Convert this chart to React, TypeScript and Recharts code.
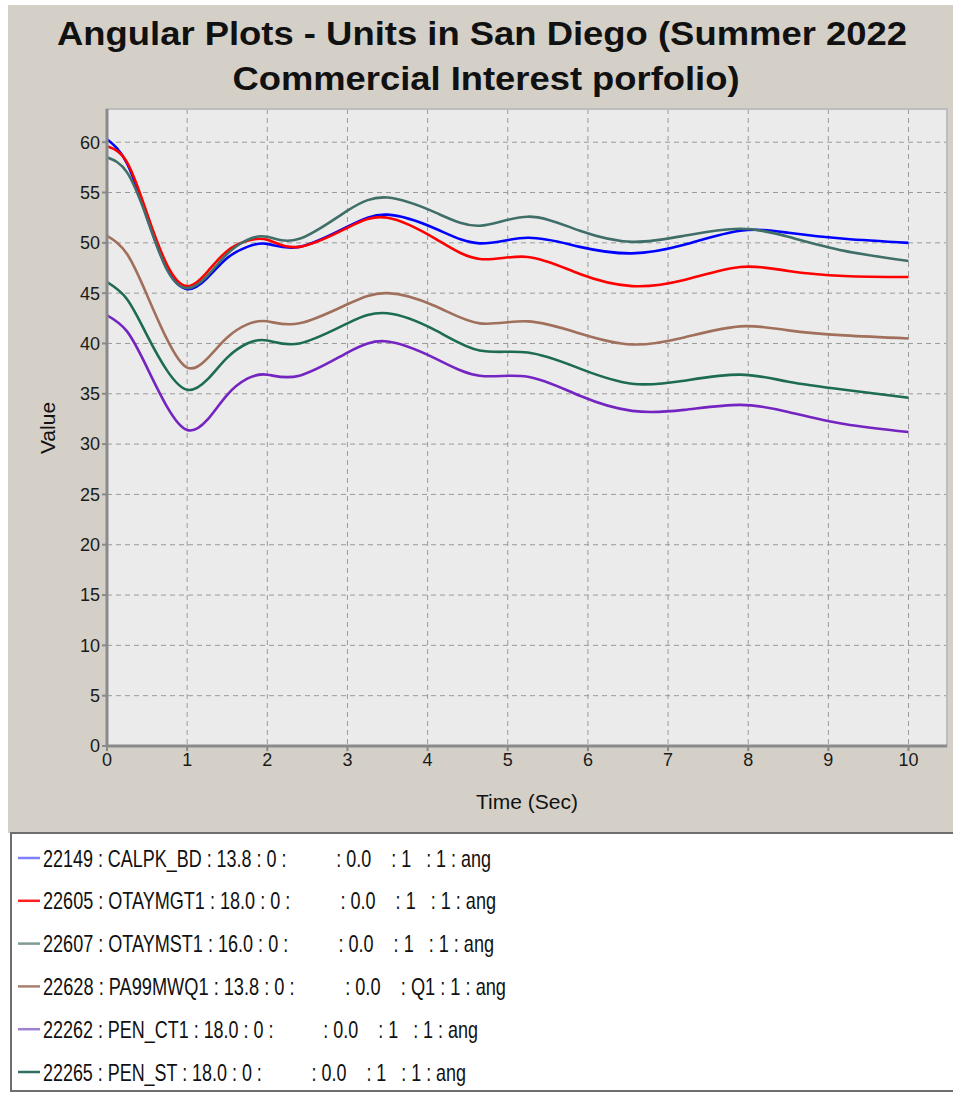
import React from 'react';
import { LineChart, Line, XAxis, YAxis, CartesianGrid, ReferenceArea } from 'recharts';

const times = [0, 0.25, 0.5, 0.75, 1.0, 1.25, 1.5, 1.75, 2.0, 2.4, 3.0, 3.5, 4.1, 4.65, 5.25, 5.9, 6.55, 7.2, 7.9, 8.5, 9.2, 10];
const calpk = [60.3, 57.9, 52.5, 47.4, 45.4, 46.5, 48.5, 49.6, 49.9, 49.6, 51.6, 52.8, 51.4, 49.95, 50.5, 49.6, 48.95, 49.8, 51.2, 51.0, 50.4, 50.0];
const otaymgt = [59.6, 58.0, 52.9, 47.8, 45.7, 47.1, 49.2, 50.2, 50.3, 49.6, 51.5, 52.5, 50.4, 48.4, 48.6, 46.9, 45.7, 46.3, 47.6, 47.2, 46.7, 46.6];
const otaymst = [58.5, 57.0, 52.4, 47.3, 45.5, 46.7, 48.9, 50.3, 50.6, 50.4, 53.2, 54.5, 53.0, 51.7, 52.6, 51.2, 50.1, 50.7, 51.4, 50.6, 49.2, 48.2];
const pa99 = [50.7, 48.9, 44.8, 40.4, 37.6, 38.5, 40.6, 41.9, 42.2, 42.0, 43.9, 45.0, 43.7, 42.0, 42.2, 41.0, 39.9, 40.6, 41.7, 41.3, 40.8, 40.5];
const penCt = [42.8, 41.2, 37.6, 33.7, 31.4, 32.4, 34.9, 36.5, 36.9, 36.8, 39.1, 40.2, 38.5, 36.8, 36.7, 34.8, 33.3, 33.4, 33.9, 33.2, 32.0, 31.2];
const penSt = [46.1, 44.4, 40.8, 37.3, 35.4, 36.4, 38.6, 40.0, 40.3, 40.0, 42.0, 43.0, 41.3, 39.3, 39.1, 37.5, 36.0, 36.3, 36.9, 36.2, 35.4, 34.6];

const xTicks = [0, 1, 2, 3, 4, 5, 6, 7, 8, 9, 10];
const yTicks = [0, 5, 10, 15, 20, 25, 30, 35, 40, 45, 50, 55, 60];

const titleLines = ['Angular Plots - Units in San Diego (Summer 2022', 'Commercial Interest porfolio)'];

const seriesKeys = ['calpk', 'otaymgt', 'otaymst', 'pa99', 'penCt', 'penSt'];
const seriesColors = ['#0000ff', '#ff0000', '#3f6f68', '#a0705c', '#7424c0', '#1c6b52'];
const legendColors = ['#7f7fff', '#ff2020', '#809a94', '#a88070', '#a080d0', '#2f7060'];
const legendLabels = [
  '22149 : CALPK_BD : 13.8 : 0 :          : 0.0    : 1   : 1 : ang',
  '22605 : OTAYMGT1 : 18.0 : 0 :          : 0.0    : 1   : 1 : ang',
  '22607 : OTAYMST1 : 16.0 : 0 :          : 0.0    : 1   : 1 : ang',
  '22628 : PA99MWQ1 : 13.8 : 0 :          : 0.0    : Q1 : 1 : ang',
  '22262 : PEN_CT1 : 18.0 : 0 :          : 0.0    : 1   : 1 : ang',
  '22265 : PEN_ST : 18.0 : 0 :          : 0.0    : 1   : 1 : ang',
];
const legendWidths = [448, 453, 451, 463, 435, 423];

const seriesData = [calpk, otaymgt, otaymst, pa99, penCt, penSt];
const data = times.map((t, i) => {
  const row: Record<string, number> = { t };
  seriesKeys.forEach((k, j) => { row[k] = seriesData[j][i]; });
  return row;
});

const FONT = '"Liberation Sans", Arial, sans-serif';

export default function App() {
  return (
    <div style={{ position: 'absolute', left: 0, top: 0, width: 953, height: 1094, background: '#ffffff', fontFamily: FONT }}>
      <div style={{ position: 'absolute', left: 8, top: 5, width: 945, height: 828, background: '#d4d0c8' }} />
      <div style={{ position: 'absolute', left: 0, top: 0 }}>
        <LineChart width={953} height={832} data={data} margin={{ top: 109, right: 6, left: 0, bottom: 26 }}>
          <CartesianGrid stroke="#9a9a9a" strokeDasharray="5 4" fill="#ebebeb" />
          <ReferenceArea x1={0} x2={10.48} y1={0} y2={63.3} fill="none" stroke="#bdbdbd" strokeWidth={2} ifOverflow="visible" />
          <XAxis
            dataKey="t"
            type="number"
            domain={[0, 10.48]}
            ticks={xTicks}
            allowDataOverflow
            height={60}
            axisLine={{ stroke: '#8a8a8a', strokeWidth: 3 }}
            tickLine={{ stroke: '#8a8a8a', strokeWidth: 2 }}
            tickSize={5}
            tick={{ fill: '#1a1a1a', fontSize: 18, fontFamily: FONT }}
          />
          <YAxis
            type="number"
            domain={[0, 63.3]}
            ticks={yTicks}
            allowDataOverflow
            width={107}
            axisLine={{ stroke: '#8a8a8a', strokeWidth: 3 }}
            tickLine={{ stroke: '#8a8a8a', strokeWidth: 2 }}
            tickSize={5}
            tick={{ fill: '#1a1a1a', fontSize: 18, fontFamily: FONT }}
          />
          {seriesKeys.map((k, j) => (
            <Line key={k} dataKey={k} type="natural" stroke={seriesColors[j]} strokeWidth={2.6} dot={false} isAnimationActive={false} />
          ))}
        </LineChart>
      </div>
      <svg style={{ position: 'absolute', left: 0, top: 0 }} width={953} height={1094}>
        <text x={482} y={45} textAnchor="middle" fontSize={33} fontWeight="bold" fill="#111" fontFamily={FONT} textLength={850} lengthAdjust="spacingAndGlyphs">{titleLines[0]}</text>
        <text x={486} y={90} textAnchor="middle" fontSize={33} fontWeight="bold" fill="#111" fontFamily={FONT} textLength={507} lengthAdjust="spacingAndGlyphs">{titleLines[1]}</text>
        <text x={0} y={0} transform="translate(55,428) rotate(-90)" textAnchor="middle" fontSize={21} fill="#111" fontFamily={FONT}>Value</text>
        <text x={527} y={809} textAnchor="middle" fontSize={21} fill="#111" fontFamily={FONT}>Time (Sec)</text>
        <rect x={11} y={833} width={944} height={258} fill="#ffffff" stroke="#6e6e6e" strokeWidth={2} />
        {legendLabels.map((lab, i) => {
          const cy = 858 + i * 42.8;
          return (
            <g key={lab}>
              <line x1={18} x2={40} y1={cy} y2={cy} stroke={legendColors[i]} strokeWidth={2.5} />
              <text x={43} y={cy + 8.5} fontSize={24} fill="#111" fontFamily={FONT} style={{ whiteSpace: 'pre' }} xmlSpace="preserve" textLength={legendWidths[i]} lengthAdjust="spacingAndGlyphs">{lab}</text>
            </g>
          );
        })}
      </svg>
    </div>
  );
}
